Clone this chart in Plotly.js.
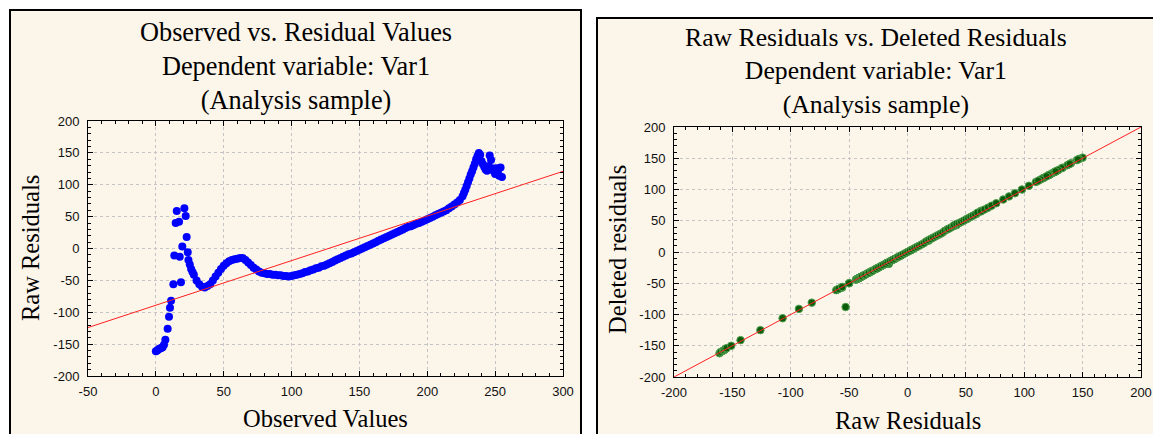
<!DOCTYPE html>
<html>
<head>
<meta charset="utf-8">
<script src="https://cdn.plot.ly/plotly-3.0.1.min.js"></script>
<style>
  html, body { margin: 0; padding: 0; background: #ffffff; }
  #chart { width: 1153px; height: 434px; }
</style>
</head>
<body>
<div id="chart"></div>
<script>
// ---- Data ----
const observed = [
  0,1,2,3,4,5,6,7,8.7,9.7,10.4,11.2,12.9,13.6,14.6,15.4,17.1,17.6,18.5,19.5,21,22,22.7,23.5,
  24,25,26,27,28,30,32,34,36,38,40,42,44,46,48,50,52,54,56,58,60,62,64,66,68,70,72,74,76,78,
  80,82,84,86,88,90,92,94,96,98,100,102,104,106,108,110,112,114,116,118,120,122,124,126,128,
  130,132,134,136,138,140,142,144,146,148,150,152,154,156,158,160,162,164,166,168,170,172,174,
  176,178,180,182,184,186,188,190,192,194,196,198,200,202,204,206,208,210,212,214,216,218,220,
  222,224,
  226,227,228,229,230,231,232,233,234,235,236,237,238,239,240,241,242,243,244,245,246,247,248,
  249,250,251,252,253,254,255
];
const rawResiduals = [
  -161,-160,-158,-157,-156,-155,-151,-143,-126,-107,-93,-82,-56,-11,40,59,42,-13,-53,3,63,51,18,-6,
  -18,-25,-32,-37,-41,-50,-56,-60,-61,-59,-56,-50,-44,-38,-32,-27,-23,-20,-18,-17,-16,-15,-15,-18,
  -22,-26,-30,-33,-36,-38,-39,-40,-40,-41,-41,-42,-42,-43,-43,-44,-43,-42,-41,-40,-39,-37,-36,-34,
  -33,-31,-30,-28,-27,-25,-23,-21,-19,-17,-15,-13,-11,-9,-8,-6,-4,-2,0,2,4,6,8,10,12,14,16,18,20,22,
  24,26,28,30,32,34,35,37,39,40,42,44,46,48,50,52,54,56,58,60,63,66,69,72,76,
  82,87,92,98,104,110,116,121,127,133,140,145,150,147,137,132,128,124,122,129,146,139,126,121,117,
  126,119,114,127,112
];
const deletedResiduals = [
  -162,-160,-158,-157,-155,-154,-150,-141,-125,-106,-91,-81,-57,-11,42,61,43,-13,-88,3,66,53,18,-6,
  -18,-25,-32,-37,-41,-50,-56,-60,-61,-59,-56,-50,-44,-38,-32,-27,-23,-20,-18,-17,-19,-15,-15,-18,
  -22,-26,-30,-33,-36,-38,-39,-40,-40,-41,-41,-42,-42,-43,-43,-44,-43,-42,-41,-40,-39,-37,-36,-34,
  -33,-31,-30,-28,-27,-25,-23,-21,-19,-17,-15,-13,-11,-9,-8,-6,-4,-2,0,2,4,6,8,10,12,14,17,19,21,23,
  25,27,29,31,34,36,37,39,41,43,45,46,48,50,52,54,56,58,60,63,65,68,71,74,78,
  84,89,94,100,106,112,118,123,129,135,142,147,151,149,139,134,130,126,124,131,148,141,128,123,119,
  128,121,116,129,114
];
// fitted lines (end points)
const fitLeftX = [-50, 300];
const fitLeftY = [-124, 121];
const fitRightX = [-200, 200];
const fitRightY = [-200, 200];

// tick values and labels (hyphen-minus as in the original)
const xTicksLeft = [-50, 0, 50, 100, 150, 200, 250, 300];
const xLabelsLeft = ['-50', '0', '50', '100', '150', '200', '250', '300'];
const residTicks = [-200, -150, -100, -50, 0, 50, 100, 150, 200];
const residLabels = ['-200', '-150', '-100', '-50', '0', '50', '100', '150', '200'];

const leftTitle = 'Observed vs. Residual Values<br>Dependent variable: Var1<br>(Analysis sample)';
const rightTitle = 'Raw Residuals vs. Deleted Residuals<br>Dependent variable: Var1<br>(Analysis sample)';

// ---- Figure ----
const W = 1153, H = 434;
const px = v => v / W;
const py = v => (H - v) / H;

const traces = [
  { x: observed, y: rawResiduals, type: 'scatter', mode: 'markers',
    marker: { color: '#0000ff', size: 8 }, xaxis: 'x', yaxis: 'y', hoverinfo: 'skip' },
  { x: fitLeftX, y: fitLeftY, type: 'scatter', mode: 'lines',
    line: { color: '#ff2020', width: 1 }, xaxis: 'x', yaxis: 'y', hoverinfo: 'skip' },
  { x: rawResiduals, y: deletedResiduals, type: 'scatter', mode: 'markers',
    marker: { color: '#0a5c0a', size: 7.5, line: { color: '#4f9f4f', width: 1 } },
    xaxis: 'x2', yaxis: 'y2', hoverinfo: 'skip' },
  { x: fitRightX, y: fitRightY, type: 'scatter', mode: 'lines',
    line: { color: '#ff2020', width: 1 }, xaxis: 'x2', yaxis: 'y2', hoverinfo: 'skip' }
];

const tickFont = { family: 'Liberation Sans, Arial, sans-serif', size: 13, color: '#111111' };
function axis(range, domain, anchor, isY, tv, tt) {
  return {
    range: range, domain: domain, anchor: anchor,
    tickmode: 'array', tickvals: tv, ticktext: tt,
    ticks: 'inside', ticklen: 5, tickcolor: '#000000', tickwidth: 1,
    showline: true, linecolor: '#000000', linewidth: 1, mirror: 'allticks',
    showgrid: true, gridcolor: '#c4c4c4', gridwidth: 1, griddash: 'dot',
    zeroline: false, tickfont: tickFont,
    ticklabelstandoff: isY ? 5 : 3,
    minor: { dtick: 10, tick0: 0, ticks: 'inside', ticklen: 3, tickcolor: '#000000', showgrid: false },
    fixedrange: true
  };
}

const serif = 'Liberation Serif, Times New Roman, serif';
const layout = {
  width: W, height: H,
  margin: { l: 0, r: 0, t: 0, b: 0 },
  paper_bgcolor: '#ffffff',
  plot_bgcolor: '#fdfdfd',
  showlegend: false,
  xaxis: axis([-50, 300], [px(88), px(563)], 'y', false, xTicksLeft, xLabelsLeft),
  yaxis: axis([-200, 200], [py(376), py(121)], 'x', true, residTicks, residLabels),
  xaxis2: axis([-200, 200], [px(674), px(1141)], 'y2', false, residTicks, residLabels),
  yaxis2: axis([-200, 200], [py(377), py(127)], 'x2', true, residTicks, residLabels),
  shapes: [
    { type: 'rect', xref: 'paper', yref: 'paper', layer: 'below',
      x0: px(10), x1: px(581), y0: -0.05, y1: py(10),
      fillcolor: '#fcf5e9', line: { color: '#000000', width: 2 } },
    { type: 'rect', xref: 'paper', yref: 'paper', layer: 'below',
      x0: px(597), x1: 1.05, y0: -0.05, y1: py(18),
      fillcolor: '#fcf5e9', line: { color: '#000000', width: 2 } }
  ],
  annotations: [
    { text: leftTitle, xref: 'paper', yref: 'paper', x: px(295.5), y: py(66),
      xanchor: 'center', yanchor: 'middle', showarrow: false, align: 'center',
      font: { family: serif, size: 26.3, color: '#000000' } },
    { text: rightTitle, xref: 'paper', yref: 'paper', x: px(876), y: py(71),
      xanchor: 'center', yanchor: 'middle', showarrow: false, align: 'center',
      font: { family: serif, size: 25.7, color: '#000000' } },
    { text: 'Observed Values', xref: 'paper', yref: 'paper', x: px(325.5), y: py(418),
      xanchor: 'center', yanchor: 'middle', showarrow: false,
      font: { family: serif, size: 24.5, color: '#000000' } },
    { text: 'Raw Residuals', xref: 'paper', yref: 'paper', x: px(30), y: py(248),
      xanchor: 'center', yanchor: 'middle', showarrow: false, textangle: -90,
      font: { family: serif, size: 24.5, color: '#000000' } },
    { text: 'Raw Residuals', xref: 'paper', yref: 'paper', x: px(907.5), y: py(420),
      xanchor: 'center', yanchor: 'middle', showarrow: false,
      font: { family: serif, size: 24.5, color: '#000000' } },
    { text: 'Deleted residuals', xref: 'paper', yref: 'paper', x: px(617), y: py(250),
      xanchor: 'center', yanchor: 'middle', showarrow: false, textangle: -90,
      font: { family: serif, size: 24.5, color: '#000000' } }
  ]
};

Plotly.newPlot('chart', traces, layout, { staticPlot: true, displayModeBar: false });
</script>
</body>
</html>
